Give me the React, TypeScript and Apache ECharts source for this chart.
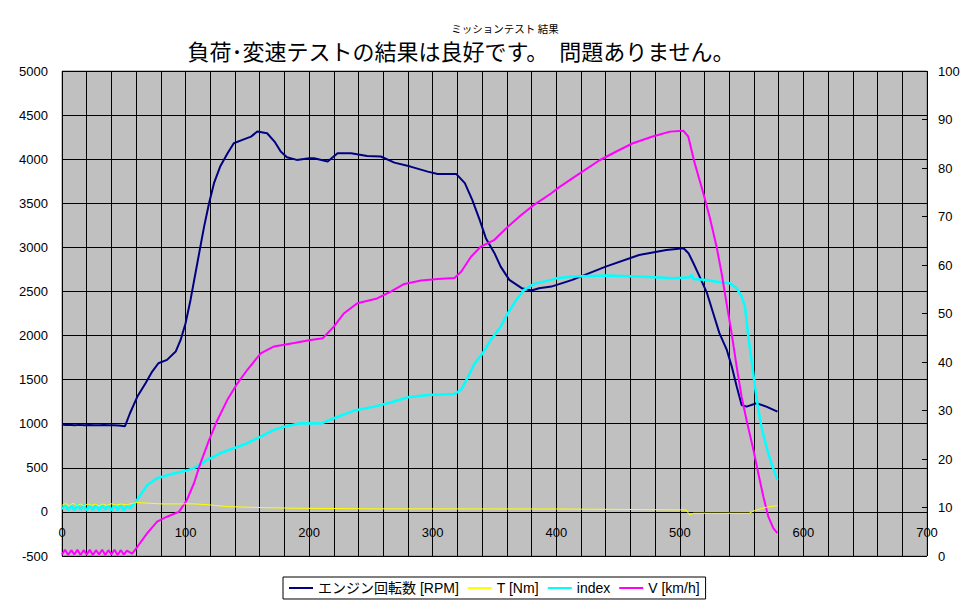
import React, { useEffect, useRef } from "react";
import * as echarts from "echarts";

const chartTitle = "ミッションテスト 結果";
const chartSubtitle = "負荷･変速テストの結果は良好です。　問題ありません。";

const seriesNames = ["エンジン回転数 [RPM]", "T [Nm]", "index", "V [km/h]"];

// Engine RPM (left axis) [time, rpm]
const rpmPoints: [number, number][] = [
  [0, 990], [3, 986], [6, 988], [10, 984], [14, 987], [18, 983], [22, 986], [26, 984], [30, 983],
  [34, 985], [38, 982], [42, 984], [46, 981], [51, 972], [55, 1119], [61, 1308], [67.6, 1459],
  [73, 1591], [78, 1686], [85, 1724], [92, 1818], [96, 1950], [100, 2140], [104, 2404], [108, 2707],
  [111, 2934], [115, 3235], [119, 3501], [123, 3728], [128, 3916], [134, 4068], [139, 4181],
  [146, 4219], [153, 4256], [158, 4313], [166, 4294], [172, 4200], [177, 4086], [182, 4022],
  [190, 3992], [200, 4011], [204, 4011], [215, 3973], [223, 4068], [234, 4068], [247, 4037],
  [258, 4030], [269, 3961], [282, 3916], [296, 3859], [304, 3833], [319, 3833], [326, 3728],
  [332, 3538], [338, 3311], [343, 3104], [350, 2934], [355, 2782], [362, 2631], [372, 2537],
  [380, 2510], [386, 2537], [396, 2555], [413, 2631], [440, 2782], [467, 2914], [489, 2971],
  [503, 2990], [507, 2934], [511, 2820], [516, 2669], [522, 2480], [527, 2253], [532, 2027],
  [538, 1837], [542, 1648], [546, 1421], [550, 1213], [554, 1194], [562, 1233], [570, 1194],
  [579, 1137],
];

// Torque (left axis) [time, Nm]
const torquePoints: [number, number][] = [
  [0, 75], [3, 95], [6, 70], [9, 98], [12, 72], [15, 90], [18, 68], [21, 92], [24, 74], [27, 88],
  [30, 70], [33, 90], [36, 75], [40, 92], [44, 78], [48, 90], [52, 80], [58, 100], [61, 106],
  [80, 91], [107, 91], [120, 79], [134, 60], [161, 49], [188, 42], [250, 35], [400, 33],
  [505, 23], [508, -34], [511, -15], [556, -15], [562, 23], [570, 53], [579, 72],
];

// index (left axis) [time, value]
const indexPoints: [number, number][] = [
  [0, 30], [2.5, 80], [5, 20], [7.5, 75], [10, 15], [12.5, 85], [15, 25], [17.5, 80], [20, 15],
  [22.5, 75], [25, 20], [27.5, 85], [30, 15], [32.5, 80], [35, 25], [37.5, 75], [40, 15],
  [42.5, 85], [45, 20], [47.5, 80], [50, 15], [52.5, 70], [55.4, 42], [60.8, 136], [69, 306],
  [77, 382], [87.8, 427], [101, 469], [109.5, 514], [117.6, 590], [128, 665], [139, 722],
  [150, 779], [160.8, 854], [171.6, 930], [182, 975], [193, 1006], [209.5, 1002], [220, 1062],
  [236.5, 1149], [252.7, 1194], [266, 1240], [280, 1300], [296, 1327], [317.6, 1338],
  [323, 1384], [328, 1516], [334, 1686], [340.5, 1800], [347, 1950], [355, 2101], [360.8, 2253],
  [367.6, 2404], [374, 2518], [382, 2586], [396, 2631], [400, 2650], [413.5, 2669],
  [440.5, 2680], [467.6, 2669], [494.6, 2650], [508, 2660], [509.5, 2690], [511, 2640],
  [521.6, 2631], [533.8, 2601], [540.5, 2593], [546, 2537], [550, 2442], [552.7, 2329],
  [555.4, 1988], [558, 1724], [560.8, 1421], [563.5, 1157], [566, 968], [570, 741], [574, 552],
  [579, 363],
];

// Vehicle speed (right axis) [time, km/h]
const speedPoints: [number, number][] = [
  [0, 0.3], [2.5, 1.3], [5, 0.2], [7.5, 1.2], [10, 0.3], [12.5, 1.3], [15, 0.2], [17.5, 1.2],
  [20, 0.3], [22.5, 1.3], [25, 0.2], [27.5, 1.2], [30, 0.3], [32.5, 1.3], [35, 0.2], [37.5, 1.2],
  [40, 0.3], [42.5, 1.3], [45, 0.2], [47.5, 1.2], [50, 0.3], [52.5, 1.1], [56.8, 0.5], [61, 1.9],
  [69, 4.7], [77, 7.1], [85, 8.1], [94.6, 9.1], [101, 11.5], [106.8, 15], [112, 19.1],
  [119, 23.9], [125.7, 28], [133.8, 32.2], [142, 35.6], [150, 38.4], [160.8, 41.8],
  [171.6, 43.2], [187.8, 43.9], [200, 44.5], [211, 44.9], [220, 47.3], [228, 50], [239, 52.1],
  [255, 53.1], [266, 54.5], [277, 56.1], [290.5, 56.8], [304, 57.1], [317.6, 57.3], [323, 58.6],
  [331, 61.7], [339, 63.8], [350, 65.2], [360.8, 67.9], [371.6, 70.3], [382, 72.4],
  [396, 74.8], [402.7, 76.1], [419, 78.9], [435, 81.6], [448.6, 83.4], [462, 85.1],
  [478, 86.5], [492, 87.5], [502.7, 87.7], [506.8, 86.5], [512, 81], [519, 74.8], [524, 70],
  [529.7, 63.8], [533.8, 58.3], [537.8, 52.1], [541.9, 45.9], [546, 39], [550, 32.8],
  [554, 28], [559.5, 21.9], [563.5, 17], [567.6, 12.2], [571.6, 8.1], [575.7, 5.7], [579, 4.7],
];

const seriesColors = ["#000080", "#FFFF00", "#00FFFF", "#FF00FF"];
const seriesWidths = [2, 1, 2.5, 2];

const FONT = "'Liberation Sans', Arial, 'Noto Sans CJK JP', sans-serif";
const CJK = "'Noto Sans CJK JP', sans-serif";

export default function App() {
  const ref = useRef<HTMLDivElement>(null);

  useEffect(() => {
    if (!ref.current) return;
    const chart = echarts.init(ref.current, undefined, { renderer: "svg" });
    const datasets = [rpmPoints, torquePoints, indexPoints, speedPoints];
    const axisIdx = [0, 0, 0, 1];
    chart.setOption({
      animation: false,
      backgroundColor: "#ffffff",
      textStyle: { fontFamily: FONT },
      graphic: [
        {
          type: "text",
          x: 505,
          y: 28,
          style: {
            text: chartTitle,
            font: `10.5px ${CJK}`,
            fill: "#000",
            textAlign: "center",
            textVerticalAlign: "middle",
          },
        },
        {
          type: "text",
          x: 461,
          y: 50,
          style: {
            text: chartSubtitle,
            font: `22px ${CJK}`,
            fill: "#000",
            textAlign: "center",
            textVerticalAlign: "middle",
          },
        },
      ],
      grid: {
        left: 62,
        right: 51,
        top: 71,
        bottom: 52,
        show: true,
        backgroundColor: "#C0C0C0",
        borderColor: "#808080",
        borderWidth: 1,
      },
      legend: {
        left: 283,
        top: 577,
        orient: "horizontal",
        backgroundColor: "#ffffff",
        borderColor: "#000000",
        borderWidth: 1,
        borderRadius: 0,
        padding: [4, 6, 4, 6],
        itemGap: 9,
        itemWidth: 24,
        itemHeight: 2,
        icon: "rect",
        textStyle: { fontSize: 14, color: "#000", fontFamily: FONT },
        data: seriesNames,
      },
      xAxis: {
        type: "value",
        min: 0,
        max: 700,
        interval: 20,
        position: "bottom",
        offset: -44,
        axisLine: { show: false, onZero: false },
        axisTick: { show: false },
        axisLabel: {
          color: "#000",
          fontSize: 13,
          margin: 14,
          fontFamily: FONT,
          showMaxLabel: true,
          showMinLabel: true,
          formatter: (v: number) => (v % 100 === 0 ? String(v) : ""),
        },
        splitLine: { show: true, lineStyle: { color: "#000", width: 1 } },
      },
      yAxis: [
        {
          type: "value",
          min: -500,
          max: 5000,
          interval: 500,
          position: "left",
          axisLine: { show: false },
          axisTick: { show: false },
          axisLabel: {
            color: "#000",
            fontSize: 13,
            margin: 14,
            fontFamily: FONT,
            formatter: (v: number) => String(v),
          },
          splitLine: { show: true, lineStyle: { color: "#000", width: 1 } },
        },
        {
          type: "value",
          min: 0,
          max: 100,
          interval: 10,
          position: "right",
          axisLine: { show: false },
          axisTick: { show: true, inside: true, length: 5, lineStyle: { color: "#000" } },
          axisLabel: {
            color: "#000",
            fontSize: 13,
            margin: 11,
            fontFamily: FONT,
            formatter: (v: number) => String(v),
          },
          splitLine: { show: false },
        },
      ],
      series: seriesNames.map((name, i) => ({
        name,
        type: "line",
        yAxisIndex: axisIdx[i],
        data: datasets[i],
        symbol: "none",
        showSymbol: false,
        color: seriesColors[i],
        lineStyle: { color: seriesColors[i], width: seriesWidths[i] },
        z: i === 1 ? 3 : 2,
      })),
    });
    return () => chart.dispose();
  }, []);

  return (
    <div
      ref={ref}
      style={{ position: "absolute", left: 0, top: 0, width: 978, height: 608, background: "#fff" }}
    />
  );
}
